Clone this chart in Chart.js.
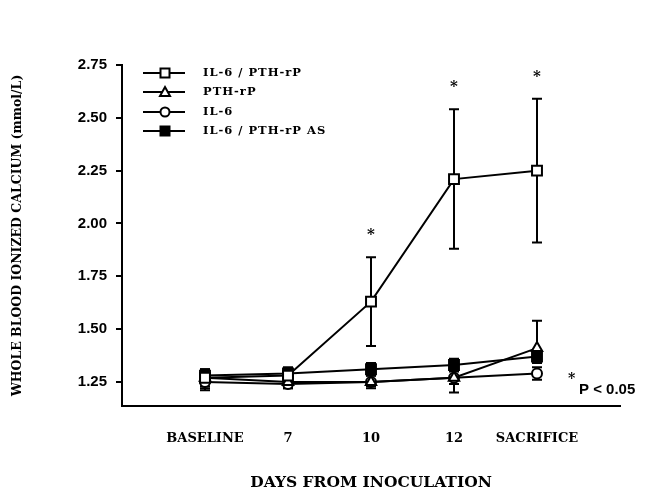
<!DOCTYPE html>
<html>
<head>
<meta charset="utf-8">
<script src="https://cdn.jsdelivr.net/npm/chart.js@4"></script>
<style>
  body { margin: 0; background: #fff; }
  #wrap { width: 665px; height: 493px; }
</style>
</head>
<body>
<div id="wrap"><canvas id="myChart"></canvas></div>
<script>
// categories on the x axis
const days = ['BASELINE', '7', '10', '12', 'SACRIFICE'];
const yTicks = [1.25, 1.50, 1.75, 2.00, 2.25, 2.50, 2.75];

// mean values (mmol/L)
const il6Pthrp   = [1.27, 1.28, 1.63, 2.21, 2.25];
const pthrp      = [1.27, 1.25, 1.25, 1.27, 1.41];
const il6        = [1.25, 1.24, 1.25, 1.27, 1.29];
const il6PthrpAS = [1.28, 1.29, 1.31, 1.33, 1.37];

// error bars (low / high)
const il6PthrpLow  = [1.22, 1.25, 1.42, 1.88, 1.91];
const il6PthrpHigh = [1.31, 1.31, 1.84, 2.54, 2.59];
const pthrpLow     = [1.23, 1.22, 1.23, 1.20, 1.37];
const pthrpHigh    = [1.30, 1.28, 1.28, 1.30, 1.54];
const il6Low       = [1.21, 1.22, 1.22, 1.24, 1.26];
const il6High      = [1.28, 1.27, 1.28, 1.30, 1.32];
const asLow        = [1.26, 1.23, 1.28, 1.30, 1.34];
const asHigh       = [1.31, 1.32, 1.34, 1.36, 1.40];

// p < 0.05 markers on the IL-6 / PTH-rP series
const significant = [false, false, true, true, true];

const labels = ['IL-6 / PTH-rP', 'PTH-rP', 'IL-6', 'IL-6 / PTH-rP AS'];

const toPoints = arr => arr.map((v, i) => ({ x: i, y: v }));

const serifBold = '"DejaVu Serif", serif';

function mkSet(label, values, low, high, style, radius, fill) {
    return {
        label: label,
        data: toPoints(values),
        low: low,
        high: high,
        borderColor: '#000',
        borderWidth: 2,
        pointStyle: style,
        pointRadius: radius,
        pointBorderWidth: 2,
        pointBackgroundColor: fill,
        pointBorderColor: '#000',
        tension: 0,
        fill: false,
    };
}

function drawMarker(ctx, style, x, y, fill) {
    ctx.save();
    ctx.lineWidth = 2;
    ctx.strokeStyle = '#000';
    ctx.fillStyle = fill;
    ctx.beginPath();
    if (style === 'rect') {
        ctx.rect(x - 4.5, y - 4.5, 9, 9);
    } else if (style === 'triangle') {
        ctx.moveTo(x, y - 5);
        ctx.lineTo(x + 5, y + 4);
        ctx.lineTo(x - 5, y + 4);
        ctx.closePath();
    } else {
        ctx.arc(x, y, 4.5, 0, Math.PI * 2);
    }
    ctx.fill();
    ctx.stroke();
    ctx.restore();
}

// error bars, asterisks, legend and the P note
const extras = {
    id: 'extras',
    beforeDatasetsDraw(chart) {
        const ctx = chart.ctx;
        const xs = chart.scales.x, ys = chart.scales.y;
        ctx.save();
        ctx.strokeStyle = '#000';
        ctx.lineWidth = 2;
        chart.data.datasets.forEach(ds => {
            ds.data.forEach((p, i) => {
                const x = xs.getPixelForValue(p.x);
                const y1 = ys.getPixelForValue(ds.low[i]);
                const y2 = ys.getPixelForValue(ds.high[i]);
                ctx.beginPath();
                ctx.moveTo(x, y1); ctx.lineTo(x, y2);
                ctx.moveTo(x - 5, y1); ctx.lineTo(x + 5, y1);
                ctx.moveTo(x - 5, y2); ctx.lineTo(x + 5, y2);
                ctx.stroke();
            });
        });
        ctx.restore();
    },
    afterDraw(chart) {
        const ctx = chart.ctx;
        const xs = chart.scales.x, ys = chart.scales.y;
        ctx.save();
        ctx.fillStyle = '#000';
        ctx.textAlign = 'center';
        ctx.textBaseline = 'middle';
        ctx.font = 'bold 15px ' + serifBold;
        significant.forEach((s, i) => {
            if (!s) return;
            ctx.fillText('*', xs.getPixelForValue(i), ys.getPixelForValue(il6PthrpHigh[i]) - 22);
        });

        // P note
        ctx.textAlign = 'left';
        ctx.font = 'bold 14px ' + serifBold;
        ctx.fillText('*', 568, 379);
        ctx.font = 'bold 15px "Liberation Sans", Arial, sans-serif';
        ctx.fillText('P < 0.05', 579, 390);

        // legend
        const rows = [73, 92, 112, 131];
        const styles = ['rect', 'triangle', 'circle', 'rect'];
        const fills = ['#fff', '#fff', '#fff', '#000'];
        ctx.font = 'bold 11.5px ' + serifBold;
        ctx.letterSpacing = '1px';
        rows.forEach((ry, i) => {
            ctx.strokeStyle = '#000';
            ctx.lineWidth = 2;
            ctx.beginPath();
            ctx.moveTo(143, ry); ctx.lineTo(185, ry);
            ctx.stroke();
            drawMarker(ctx, styles[i], 165, ry, fills[i]);
            ctx.fillStyle = '#000';
            ctx.fillText(labels[i], 203, ry);
        });
        ctx.restore();
    }
};

new Chart(document.getElementById('myChart'), {
    type: 'line',
    data: {
        datasets: [
            mkSet(labels[0], il6Pthrp, il6PthrpLow, il6PthrpHigh, 'rect', 7, '#fff'),
            mkSet(labels[1], pthrp, pthrpLow, pthrpHigh, 'triangle', 6, '#fff'),
            mkSet(labels[2], il6, il6Low, il6High, 'circle', 5, '#fff'),
            mkSet(labels[3], il6PthrpAS, asLow, asHigh, 'rect', 7, '#000'),
        ],
    },
    options: {
        responsive: true,
        maintainAspectRatio: false,
        animation: false,
        layout: { padding: { top: 65, right: 45, left: 0, bottom: 0 } },
        plugins: {
            legend: { display: false },
            tooltip: { enabled: false },
        },
        scales: {
            x: {
                type: 'linear',
                min: -1,
                max: 5,
                afterBuildTicks: axis => { axis.ticks = days.map((d, i) => ({ value: i })); },
                afterFit: axis => { axis.height = 87; },
                grid: { display: false, drawTicks: false },
                border: { display: true, color: '#000', width: 2 },
                ticks: {
                    color: '#000',
                    padding: 25,
                    maxRotation: 0,
                    autoSkip: false,
                    font: { family: serifBold, weight: 'bold', size: 13 },
                    callback: v => days[v],
                },
                title: {
                    display: true,
                    text: 'DAYS FROM INOCULATION',
                    color: '#000',
                    font: { family: serifBold, weight: 'bold', size: 15.5 },
                    padding: { top: 0, bottom: 1 },
                },
            },
            y: {
                min: 1.136,
                max: 2.75,
                afterBuildTicks: axis => { axis.ticks = yTicks.map(v => ({ value: v })); },
                afterFit: axis => { axis.width = 122; },
                grid: { drawOnChartArea: false, drawTicks: true, tickLength: 6, color: '#000', lineWidth: 2 },
                border: { display: true, color: '#000', width: 2 },
                ticks: {
                    color: '#000',
                    padding: 9,
                    font: { family: '"Liberation Sans", Arial, sans-serif', weight: 'bold', size: 15 },
                    callback: v => v.toFixed(2),
                },
                title: {
                    display: true,
                    text: 'WHOLE BLOOD IONIZED CALCIUM (mmol/L)',
                    color: '#000',
                    font: { family: serifBold, weight: 'bold', size: 12.5 },
                    padding: { top: 10, bottom: 0 },
                },
            },
        },
    },
    plugins: [extras],
});
</script>
</body>
</html>
